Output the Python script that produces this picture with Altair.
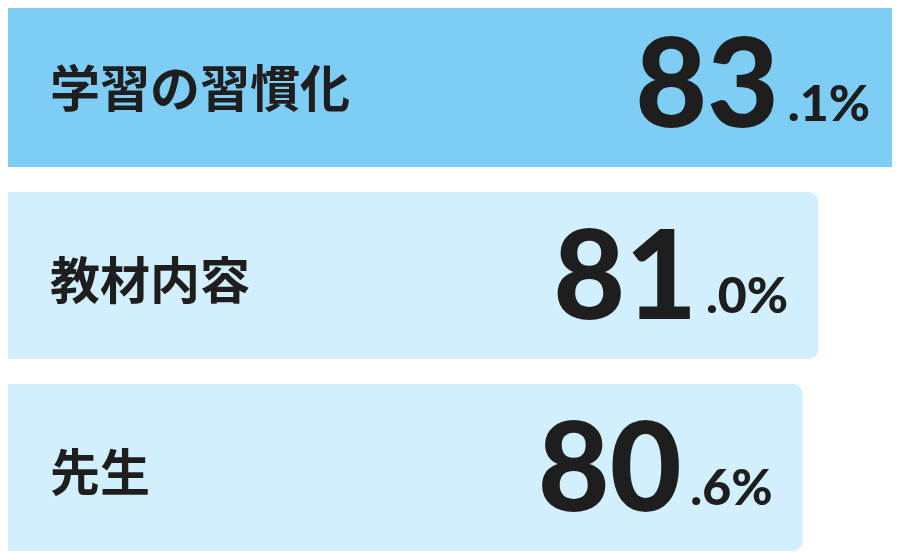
import altair as alt
import pandas as pd

categories = ["学習の習慣化", "教材内容", "先生"]
values = [83.1, 81.0, 80.6]
integer_parts = ["83", "81", "80"]
decimal_parts = [".1%", ".0%", ".6%"]
highlight = ["top", "other", "other"]

df = pd.DataFrame({
    "category": categories,
    "value": values,
    "int": integer_parts,
    "dec": decimal_parts,
    "group": highlight,
})

y = alt.Y("category:N", sort=categories, axis=None,
          scale=alt.Scale(paddingInner=25 / 192, paddingOuter=0))
xscale = alt.Scale(domain=[60, 83.1], zero=False, nice=False)

base = alt.Chart(df)

bars = base.mark_bar(cornerRadius=10).encode(
    x=alt.X("value:Q", scale=xscale, axis=None),
    x2=alt.datum(60),
    y=y,
    color=alt.Color("group:N", legend=None,
                    scale=alt.Scale(domain=["top", "other"],
                                    range=["#7ECDF4", "#D1EFFD"])),
)

labels = base.mark_text(
    align="left", baseline="alphabetic", font="Noto Sans CJK JP",
    fontWeight="bold", fontSize=50, color="#1E1E1E", dy=23,
).encode(x=alt.value(50), y=y, text="category:N")

big = base.mark_text(
    align="right", baseline="alphabetic", font="Lato",
    fontWeight=900, fontSize=124, color="#1E1E1E", dx=-121, dy=43.5,
).encode(x=alt.X("value:Q", scale=xscale), y=y, text="int:N")

small = base.mark_text(
    align="right", baseline="alphabetic", font="Lato",
    fontWeight=900, fontSize=50, color="#1E1E1E", dx=-30, dy=37,
).encode(x=alt.X("value:Q", scale=xscale), y=y, text="dec:N")

chart = alt.layer(bars, labels, big, small).properties(
    width=900, height=551,
    padding={"left": -8, "top": -8, "right": -8, "bottom": 0},
    autosize=alt.AutoSizeParams(type="none"),
).configure_view(stroke=None)

chart.save("out.html", embed_options={"renderer": "svg", "actions": False})
